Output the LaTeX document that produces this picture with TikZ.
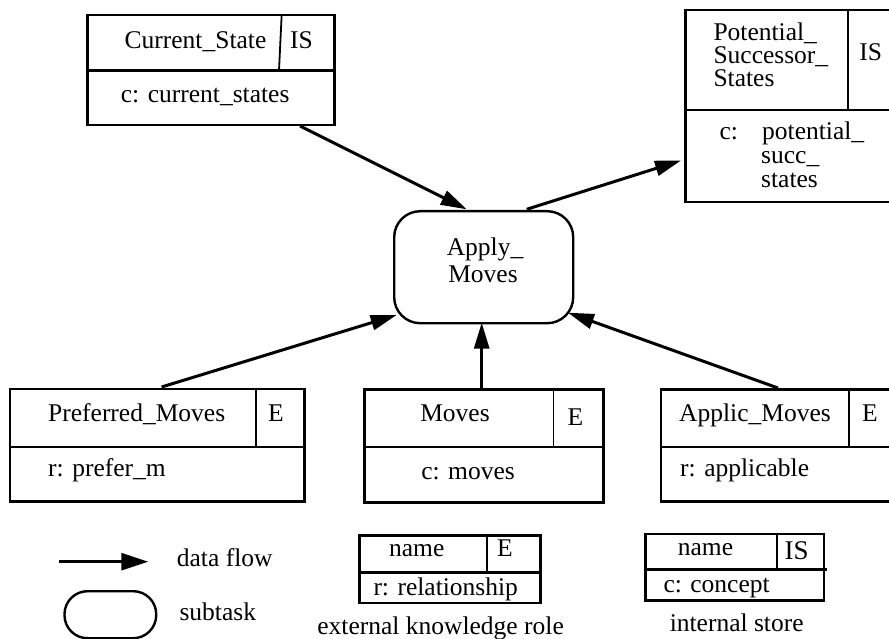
\documentclass[tikz,border=0pt]{standalone}
\usepackage{fontspec}
\setmainfont{Liberation Serif}
\usetikzlibrary{arrows.meta}
\begin{document}
\begin{tikzpicture}[x=1pt,y=-1pt,
  txt/.style={inner sep=0pt, anchor=base, font=\fontsize{25.5}{26}\selectfont},
  txtw/.style={txt, anchor=base west},
  frame/.style={draw, line width=2.5pt, inner sep=0pt, anchor=north west},
  hdiv/.style={line width=2.5pt},
  vdiv/.style={line width=1.8pt},
  flow/.style={line width=3pt, -{Triangle[length=26pt,width=15pt]}},
  subtask/.style={draw, line width=2.4pt, inner sep=0pt, anchor=north west}]
\useasboundingbox (0,0) rectangle (889,639);

% ---------- Current_State
\node[frame, minimum width=247pt, minimum height=110pt] (cs) at (86,14) {};
\draw[hdiv] (86,70.5) -- (333,70.5);
\draw[vdiv] (281.7,14) -- (279,70.5);
\node[txt] (csname) at (195.5,48.7) {Current\_State};
\node[txt] (cstag) at (301.5,48.5) {IS};
\node[txtw] (cscon) at (120.7,103) {c: current\_states};

% ---------- Potential_Successor_States
\node[frame, minimum width=206pt, minimum height=192pt] (pss) at (684,9) {};
\draw[hdiv] (684,110) -- (890,110);
\draw[vdiv] (848,9) -- (848,110);
\node[txtw] (pss1) at (713.3,41) {Potential\_};
\node[txtw] (pss2) at (713.3,64) {Successor\_};
\node[txtw] (pss3) at (713.3,87) {States};
\node[txt] (psstag) at (870.7,60.7) {IS};
\node[txtw] (psscon1) at (719.3,140) {c:\hspace{24.3pt}potential\_};
\node[txtw] (psscon2) at (761,164) {succ\_};
\node[txtw] (psscon3) at (761,188) {states};

% ---------- Apply_Moves
\node[subtask, rounded corners=26pt, minimum width=179pt, minimum height=112pt] (apply) at (393,210) {};
\node[txt] (ap1) at (485,255) {Apply\_};
\node[txt] (ap2) at (483,282) {Moves};

% ---------- Preferred_Moves
\node[frame, minimum width=294.5pt, minimum height=112.5pt] (pm) at (8.5,387.5) {};
\draw[hdiv] (8.5,447) -- (303,447);
\draw[vdiv] (256,387.5) -- (256,447);
\node[txtw] (pmname) at (48,421.7) {Preferred\_Moves};
\node[txt] (pmtag) at (276,421.7) {E};
\node[txtw] (pmcon) at (48,476.7) {r: prefer\_m};

% ---------- Moves
\node[frame, minimum width=239pt, minimum height=113pt] (mv) at (363,388) {};
\draw[hdiv] (363,447) -- (602,447);
\draw[vdiv] (553.5,388) -- (553.5,447);
\node[txt] (mvname) at (455,421.7) {Moves};
\node[txt] (mvtag) at (575.4,425) {E};
\node[txt] (mvcon) at (468,479) {c: moves};

% ---------- Applic_Moves
\node[frame, minimum width=232pt, minimum height=112pt] (am) at (659.5,388) {};
\draw[hdiv] (659.5,447) -- (891,447);
\draw[vdiv] (849,388) -- (849,447);
\node[txtw] (amname) at (679,421.7) {Applic\_Moves};
\node[txt] (amtag) at (870,421.7) {E};
\node[txtw] (amcon) at (680,476.7) {r: applicable};

% ---------- connectors
\coordinate (csout) at (300,126);
\coordinate (apin1) at (466.7,209.3);
\coordinate (apout) at (526.7,209.3);
\coordinate (pssin) at (681,160.5);
\coordinate (pmout) at (161.6,387);
\coordinate (apin2) at (396.7,315);
\coordinate (mvout) at (481.7,388);
\coordinate (apin3) at (481.7,322.7);
\coordinate (amout) at (778,388);
\coordinate (apin4) at (568,312.7);
\draw[flow] (csout) -- (apin1);
\draw[flow] (apout) -- (pssin);
\draw[flow] (pmout) -- (apin2);
\draw[flow] (mvout) -- (apin3);
\draw[flow] (amout) -- (apin4);

% ---------- legend
\coordinate (lf1) at (59.3,561.7);
\coordinate (lf2) at (148.3,561.7);
\draw[flow, line width=2.5pt, -{Triangle[length=27pt,width=17pt]}] (lf1) -- (lf2);
\node[txtw] (lgflow) at (176.7,566.7) {data flow};
\node[subtask, rounded corners=23pt, minimum width=91.7pt, minimum height=47pt] (lgsub) at (63.3,590) {};
\node[txtw] (lgsubt) at (179.3,620.7) {subtask};

\node[frame, minimum width=180.7pt, minimum height=67.7pt] (lge) at (358.3,534) {};
\draw[hdiv] (358.3,572.3) -- (539,572.3);
\draw[vdiv] (486.7,534) -- (486.7,572.3);
\node[txt] (lgename) at (416.7,556.7) {name};
\node[txt] (lgetag) at (505,556.7) {E};
\node[txtw] (lgecon) at (373.3,595) {r: relationship};
\node[txt] (lgecap) at (440.6,634.5) {external knowledge role};

\node[frame, minimum width=178.7pt, minimum height=66.6pt] (lgi) at (644,532.7) {};
\draw[hdiv] (644,569.3) -- (826.7,569.3);
\draw[vdiv] (777.3,532.7) -- (777.3,569.3);
\node[txt] (lginame) at (705.5,555) {name};
\node[txt, font=\fontsize{27}{28}\selectfont] (lgitag) at (796.7,559.3) {IS};
\node[txtw] (lgicon) at (663.3,592.7) {c: concept};
\node[txt] (lgicap) at (736.7,631.5) {internal store};
\end{tikzpicture}
\end{document}
